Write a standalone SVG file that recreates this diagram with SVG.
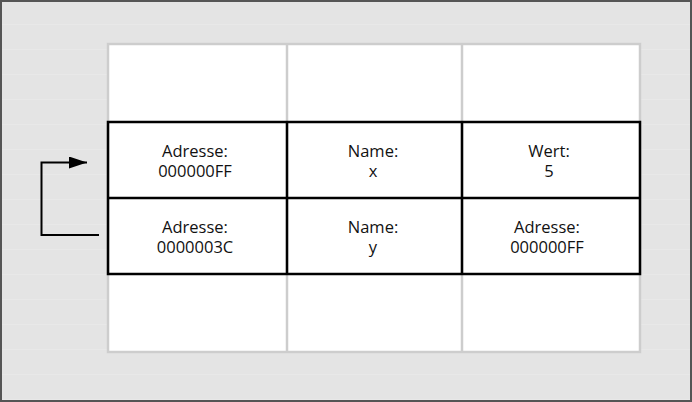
<svg xmlns="http://www.w3.org/2000/svg" width="692" height="402" viewBox="0 0 692 402">
  <defs>
    <pattern id="stripes" x="0" y="0" width="692" height="25" patternUnits="userSpaceOnUse">
      <rect width="692" height="25" fill="#e4e4e4"/>
      <rect y="24.5" width="692" height="1" fill="#ececec"/>
    </pattern>
    <marker id="arrow" viewBox="0 0 18 12" refX="18" refY="6" markerWidth="18" markerHeight="12" markerUnits="userSpaceOnUse" orient="auto">
      <path d="M0,0 L18,6 L0,12 Z" fill="#000"/>
    </marker>
  </defs>
  <style>
    .frame { fill: url(#stripes); stroke: #555; stroke-width: 2; }
    .light { stroke: #cdcdcd; stroke-width: 2.5; fill: none; }
    .cell { fill: #fff; }
    .dark { stroke: #000; stroke-width: 2.5; fill: none; }
    .label { font-family: "Open Sans", "Liberation Sans", sans-serif; font-size: 16.5px; fill: #111; text-anchor: middle; }
    .link { stroke: #000; stroke-width: 2; fill: none; }
  </style>

  <!-- backdrop -->
  <rect class="frame" x="1" y="1" width="690" height="400"/>

  <!-- memory grid: empty outer rows -->
  <g id="grid-empty">
    <rect class="cell" x="108" y="44" width="532" height="308"/>
    <rect class="light" x="108" y="44" width="532" height="308"/>
    <line class="light" x1="287" y1="44" x2="287" y2="352"/>
    <line class="light" x1="462" y1="44" x2="462" y2="352"/>
  </g>

  <!-- occupied rows -->
  <g id="grid-used">
    <rect class="dark" x="108" y="122" width="532" height="152"/>
    <line class="dark" x1="108" y1="198" x2="640" y2="198"/>
    <line class="dark" x1="287" y1="122" x2="287" y2="274"/>
    <line class="dark" x1="462" y1="122" x2="462" y2="274"/>
  </g>

  <g id="addr-x">
    <text class="label" x="195" y="157">Adresse:</text>
    <text class="label" x="195" y="177">000000FF</text>
  </g>
  <g id="name-x">
    <text class="label" x="373" y="157">Name:</text>
    <text class="label" x="373" y="177">x</text>
  </g>
  <g id="value-x">
    <text class="label" x="549" y="157">Wert:</text>
    <text class="label" x="549" y="177">5</text>
  </g>

  <g id="addr-y">
    <text class="label" x="195" y="233">Adresse:</text>
    <text class="label" x="195" y="253">0000003C</text>
  </g>
  <g id="name-y">
    <text class="label" x="373" y="233">Name:</text>
    <text class="label" x="373" y="253">y</text>
  </g>
  <g id="value-y">
    <text class="label" x="547" y="233">Adresse:</text>
    <text class="label" x="547" y="253">000000FF</text>
  </g>

  <!-- pointer from y back to x -->
  <g id="connectors">
    <path class="link" d="M99,235 H41.5 V162.5 H87" marker-end="url(#arrow)"/>
  </g>
</svg>
